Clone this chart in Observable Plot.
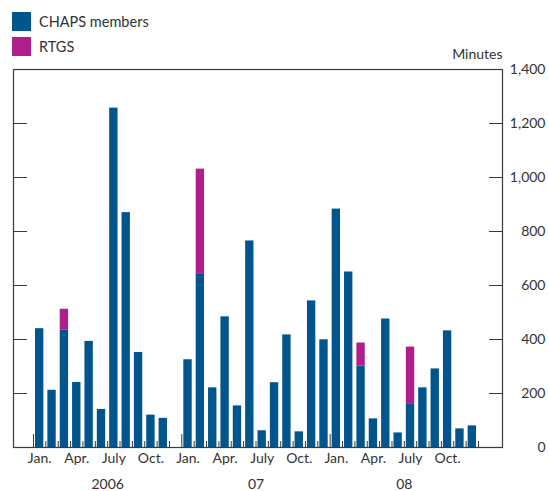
<!DOCTYPE html>
<html><head><meta charset="utf-8">
<script src="https://cdn.jsdelivr.net/npm/d3@7"></script>
<script src="https://cdn.jsdelivr.net/npm/@observablehq/plot@0.6"></script>
<style>
body{margin:0;background:#fff;font-family:Lato,sans-serif;}
#wrap{position:relative;width:549px;height:491px;}
#legend{position:absolute;left:12px;top:9px;font-size:14.5px;color:#333;}
.item{display:flex;align-items:center;height:25px;}
.sw{width:19px;height:19px;margin-right:8px;flex:none;}
#chart{position:absolute;left:0;top:0;}
</style></head><body>
<div id="wrap"><div id="chart"></div><div id="legend"></div></div>
<script>
// ---- data ----
const years = ["2006", "2007", "2008"];
const yearLabels = ["2006", "07", "08"];
const monthNames = ["Jan.", "Feb.", "Mar.", "Apr.", "May", "June", "July", "Aug.", "Sep.", "Oct.", "Nov.", "Dec."];
const labelledMonths = ["Jan.", "Apr.", "July", "Oct."];
const seriesNames = ["CHAPS members", "RTGS"];
const seriesColors = ["#00568c", "#b01e8c"];
// minutes, one value per month Jan 2006 .. Dec 2008 (null = no data)
const chaps = [440, 212, 434, 241, 393, 141, 1257, 870, 352, 120, 108, null,
               325, 641, 221, 484, 154, 765, 62, 240, 417, 58, 543, 399,
               883, 650, 302, 106, 476, 54, 162, 221, 291, 432, 69, 80];
const rtgs  = [0, 0, 78, 0, 0, 0, 0, 0, 0, 0, 0, 0,
               0, 390, 0, 0, 0, 0, 0, 0, 0, 0, 0, 0,
               0, 0, 85, 0, 0, 0, 210, 0, 0, 0, 0, 0];
const yTicks = [0, 200, 400, 600, 800, 1000, 1200, 1400];

// ---- build ----
const months = years.flatMap(y => monthNames.map(m => ({year: y, month: m})));
const data = [];
months.forEach((m, i) => {
  if (chaps[i] != null) data.push({i, series: seriesNames[0], value: chaps[i]});
  if (rtgs[i]) data.push({i, series: seriesNames[1], value: rtgs[i]});
});
const n = months.length;
const boundaries = d3.range(n + 1);
const yearStarts = years.map((y, k) => k * 12);
const monthTicks = boundaries.filter(b => !yearStarts.includes(b));
const labelPos = months.map((m, i) => i).filter(i => labelledMonths.includes(months[i].month)).map(i => i + 0.5);
const yearPos = years.map((y, k) => k * 12 + 6);
const axisColor = "#3a3a3a";

const chart = Plot.plot({
  width: 549, height: 491,
  marginLeft: 13, marginRight: 47, marginTop: 69, marginBottom: 44,
  x: {type: "linear", domain: [0, n], insetLeft: 20, insetRight: 24, axis: null, label: null},
  y: {domain: [0, 1400], axis: null, label: null},
  color: {domain: seriesNames, range: seriesColors},
  style: {fontFamily: "Lato, sans-serif", fontSize: "14px", color: "#333", background: "transparent"},
  marks: [
    Plot.rectY(data, {x: "i", interval: 1, y: "value", fill: "series", insetLeft: 2, insetRight: 2}),
    Plot.axisY({anchor: "left", ticks: yTicks.slice(1, -1), tickSize: -14, tickFormat: () => "", stroke: axisColor, label: null}),
    Plot.axisY({anchor: "right", ticks: yTicks.slice(1, -1), tickSize: -14, tickFormat: () => "", stroke: axisColor, label: null}),
    Plot.axisY({anchor: "right", ticks: yTicks, tickSize: 0, tickPadding: 43, textAnchor: "end", fontSize: 14,
                tickFormat: d => d.toLocaleString("en-US"), label: null}),
    Plot.axisX({ticks: monthTicks, tickSize: -6, tickFormat: () => "", stroke: axisColor, label: null}),
    Plot.axisX({ticks: yearStarts, tickSize: -13, tickFormat: () => "", stroke: axisColor, label: null}),
    Plot.axisX({ticks: labelPos, tickSize: 0, tickPadding: 6, fontSize: 14,
                tickFormat: p => months[Math.floor(p)].month, label: null}),
    Plot.axisX({ticks: yearPos, tickSize: 0, tickPadding: 32, fontSize: 14,
                tickFormat: p => yearLabels[Math.floor(p / 12)], label: null}),
    Plot.frame({stroke: axisColor, strokeWidth: 1.2}),
    Plot.text(["Minutes"], {frameAnchor: "top-right", textAnchor: "end", lineAnchor: "bottom", dy: -11, fontSize: 14, fill: "#333"})
  ]
});
document.getElementById("chart").appendChild(chart);

const legend = document.getElementById("legend");
seriesNames.forEach((s, k) => {
  const it = document.createElement("div");
  it.className = "item";
  it.innerHTML = `<div class="sw" style="background:${seriesColors[k]}"></div><span>${s}</span>`;
  legend.appendChild(it);
});
</script>
</body></html>
